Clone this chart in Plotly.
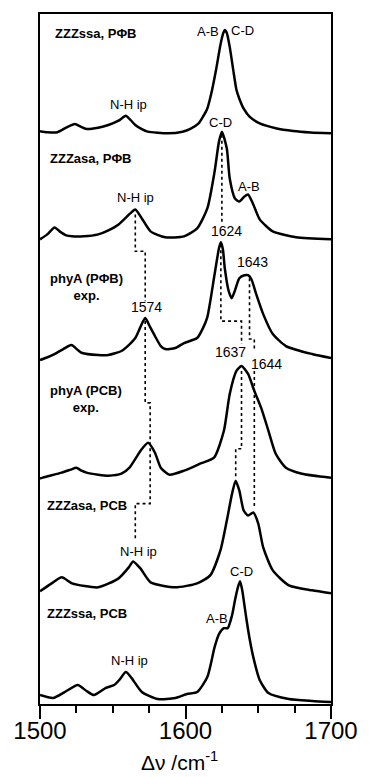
import plotly.graph_objects as go

# ---- data (wavenumber in cm^-1, intensity in arbitrary units) ----
s1_x = [1500,1505,1512,1518,1524,1528,1532,1540,1547,1554,1559,1562,1565.5,1570,1574,1588,1598,1603,1609,1612,1615,1618,1621,1624,1626,1627,1628.4,1630.4,1633,1635,1637,1640,1644,1651,1662,1674,1686,1700]
s1_y = [0.5,-0.5,-0.5,4,7.7,5,2.7,4,6.7,11,16,12,6.7,2.5,0,-1.7,0,2.5,8.3,15,23.3,40,62,87,99,102,99,85,60,42,33,23,15,8.3,3.5,0.7,-0.8,-1.7]

s2_x = [1500,1505,1510,1513.5,1518,1522,1530,1540,1547,1554,1562,1565.5,1570,1576,1586,1599,1608,1615,1620,1623,1625,1628.4,1630.4,1634,1637,1640.5,1643,1646.6,1651,1660,1676,1700]
s2_y = [0,5,12,8,4,3,3,5,9,15,26,30,21,8,2,3,11,31,68,98,108,91,61,41,38,43,45,35,20,8,2,0]

s3_x = [1500,1502,1510,1516,1521.6,1526,1529,1540,1547,1556,1561,1565.5,1569,1572.3,1575.7,1579,1583,1586,1593,1599,1608,1612,1615,1620,1623,1624.3,1625.7,1627,1629.7,1631.8,1633.8,1637,1640.5,1643,1645.3,1648.6,1653.4,1660,1669,1687,1700]
s3_y = [-1,0,5,10,14,9,6,4,4,8,14,21,32,41,32,23,13,10,11,16,21,31,42,85,111,117,110,91,68,61,68,81,84,84,80,65,45,25,13,5,1]

s4_x = [1500,1502,1515,1521,1525,1528.5,1532,1540,1547,1556,1561.5,1569.6,1574.3,1579,1583,1589,1599,1610,1619.6,1626.4,1630.4,1635,1638.5,1643,1647.3,1652,1657,1662,1669,1680,1700]
s4_y = [-1,0,5,8,10,7,5,3,2,4,10,28,35,25,10,3,7,14,20,47,84,107,112,104,87,70,47,24,10,4,0]

s5_x = [1500,1508,1515,1522,1540,1554,1561,1564,1569,1576,1593,1608,1617,1624,1628.4,1632,1634.5,1637,1640,1643,1646.6,1650,1653.4,1660,1671,1687,1700]
s5_y = [2,10,16,10,6,15,26,32,25,11,6,10,18,43,73,100,113,103,83,78,81,70,46,23,8,3,0]

s6_x = [1500,1509,1517,1526,1532,1537,1545,1551,1555,1559,1563,1570,1581,1593,1601,1608,1615,1620,1623,1626.4,1629,1632,1634,1636,1637.5,1639,1640.5,1642,1644,1646.6,1651,1657,1671,1687,1700]
s6_y = [7,4,10,17,11,7,14,17,23,30,24,10,3,4,8,10,25,55,68,74,74,87,102,115,121,112,97,82,64,45,22,9,3,1,0]

spectra_x = [s1_x, s2_x, s3_x, s4_x, s5_x, s6_x]
spectra_y = [s1_y, s2_y, s3_y, s4_y, s5_y, s6_y]
offsets = [574, 466, 346, 227, 111, 2]

# dotted guide paths (wavenumber, stacked intensity)
guide_x = [
    [1625, 1625],
    [1624.3, 1624.3, 1638.5, 1638.5],
    [1638.5, 1638.5, 1634.5, 1634.5],
    [1644, 1644, 1647.3, 1647.3],
    [1647.3, 1647.3],
    [1565.5, 1565.5, 1572.3, 1572.3],
    [1572.3, 1572.3, 1575.7, 1575.7, 1565.5, 1565.5],
]
guide_y = [
    [571, 482],
    [461, 384, 384, 361],
    [334, 256, 256, 226],
    [427, 366, 366, 354],
    [334, 196],
    [491, 454, 454, 404],
    [384, 302, 302, 201, 201, 164],
]

# labels: (text, x, y, anchor, bold, size)
labels = [
    ("ZZZssa, P\u03a6B", 1508.8, 672, "left", True, 13),
    ("A-B", 1615.5, 674, "center", False, 13),
    ("C-D", 1639.2, 675, "center", False, 13),
    ("N-H ip", 1560.8, 601, "center", False, 13),
    ("C-D", 1624.3, 583, "center", False, 13),
    ("ZZZasa, P\u03a6B", 1505.4, 547, "left", True, 13),
    ("N-H ip", 1565.5, 508, "center", False, 13),
    ("A-B", 1643.9, 519, "center", False, 13),
    ("1624", 1628.4, 474, "center", False, 14),
    ("phyA (P\u03a6B)<br>exp.", 1531.8, 418, "center", True, 13),
    ("1643", 1646, 443, "center", False, 14),
    ("1574", 1573, 398, "center", False, 14),
    ("1637", 1631, 353, "center", False, 14),
    ("1644", 1655.4, 341, "center", False, 14),
    ("phyA (PCB)<br>exp.", 1531.8, 306, "center", True, 13),
    ("ZZZasa, PCB", 1503.4, 199, "left", True, 13),
    ("N-H ip", 1567.6, 153, "center", False, 13),
    ("C-D", 1638.5, 133, "center", False, 13),
    ("ZZZssa, PCB", 1503.4, 91, "left", True, 13),
    ("A-B", 1621.6, 86, "center", False, 13),
    ("N-H ip", 1561.5, 44, "center", False, 13),
]

FONT = "Liberation Sans, Arial, sans-serif"

fig = go.Figure()
for xs, ys, off in zip(spectra_x, spectra_y, offsets):
    fig.add_trace(go.Scatter(
        x=xs, y=[v + off for v in ys], mode="lines",
        line=dict(color="black", width=2.5, shape="spline", smoothing=0.6),
        showlegend=False, hoverinfo="skip"))

for gx, gy in zip(guide_x, guide_y):
    fig.add_trace(go.Scatter(
        x=gx, y=gy, mode="lines",
        line=dict(color="black", width=1.6, dash="dot"),
        showlegend=False, hoverinfo="skip"))

for text, x, y, anchor, bold, size in labels:
    fig.add_annotation(
        x=x, y=y, xref="x", yref="y", text=f"<b>{text}</b>" if bold else text,
        showarrow=False, xanchor=anchor, yanchor="middle",
        font=dict(family=FONT, size=size, color="black"))

fig.add_annotation(
    x=0.48, y=-0.082, xref="paper", yref="paper",
    text="\u0394\u03bd /cm<sup>-1</sup>", showarrow=False,
    xanchor="center", yanchor="middle",
    font=dict(family=FONT, size=21, color="black"))

fig.update_layout(
    width=370, height=777,
    margin=dict(l=40, r=34, t=12, b=73),
    paper_bgcolor="white", plot_bgcolor="white",
    xaxis=dict(range=[1500, 1700], showline=True, linewidth=2, linecolor="black",
               mirror=True, ticks="outside", ticklen=13, tickwidth=1.5, tickcolor="black",
               dtick=100, tick0=1500, showgrid=False, zeroline=False,
               ticklabelstandoff=-9,
               tickfont=dict(family=FONT, size=24, color="black"),
               minor=dict(ticks="outside", ticklen=7, tickwidth=1.5, tickcolor="black", dtick=25, showgrid=False)),
    yaxis=dict(range=[0, 692], showline=True, linewidth=2, linecolor="black",
               mirror=True, ticks="", showticklabels=False, showgrid=False, zeroline=False),
)

fig.write_html("out.html")
